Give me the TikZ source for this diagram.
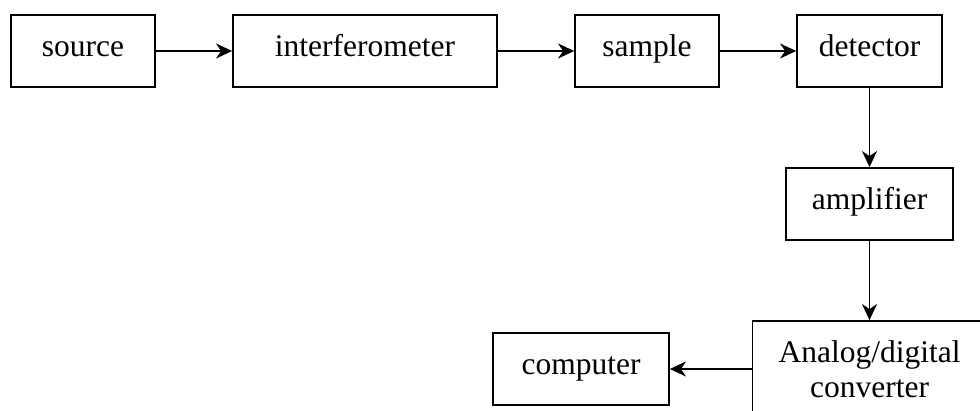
\documentclass[tikz,border=0pt]{standalone}
\usepackage{fontspec}
\setmainfont{Liberation Serif}
\usetikzlibrary{arrows.meta}
\begin{document}
\begin{tikzpicture}[x=1pt,y=-1pt,
  blk/.style={draw, line width=1.8pt, inner sep=0pt, minimum height=72pt, text height=21pt, text depth=11pt, font=\fontsize{31.5}{35}\selectfont},
  lbl/.style={inner sep=0pt, align=center, font=\fontsize{31.5}{35}\selectfont},
  arr/.style={-{Stealth[length=16pt,width=15pt,inset=5pt]}, line width=1.8pt}]
\useasboundingbox (0,0) rectangle (980,410);
\clip (0,0) rectangle (980,410);
\fill[white] (0,0) rectangle (980,410);
\node[blk, minimum width=144pt] (src) at (83,51) {source};
\node[blk, minimum width=264pt] (int) at (365,51) {interferometer};
\node[blk, minimum width=144pt] (smp) at (647,51) {sample};
\node[blk, minimum width=145pt] (det) at (869.5,51) {detector};
\node[blk, minimum width=167pt] (amp) at (869.5,204) {amplifier};
\node[blk, minimum width=234pt, minimum height=120pt] (adc) at (869.5,381) {};
\node[lbl, anchor=base] (adctxt) at (869.5,397) {Analog/digital\\converter};
\node[blk, minimum width=176pt] (comp) at (581,369) {computer};
\draw[arr] (src) -- (int);
\draw[arr] (int) -- (smp);
\draw[arr] (smp) -- (det);
\draw[arr] (det) -- (amp);
\draw[arr] (amp) -- (adc);
\draw[arr] (comp.east -| adc.west) -- (comp.east);
\end{tikzpicture}
\end{document}
